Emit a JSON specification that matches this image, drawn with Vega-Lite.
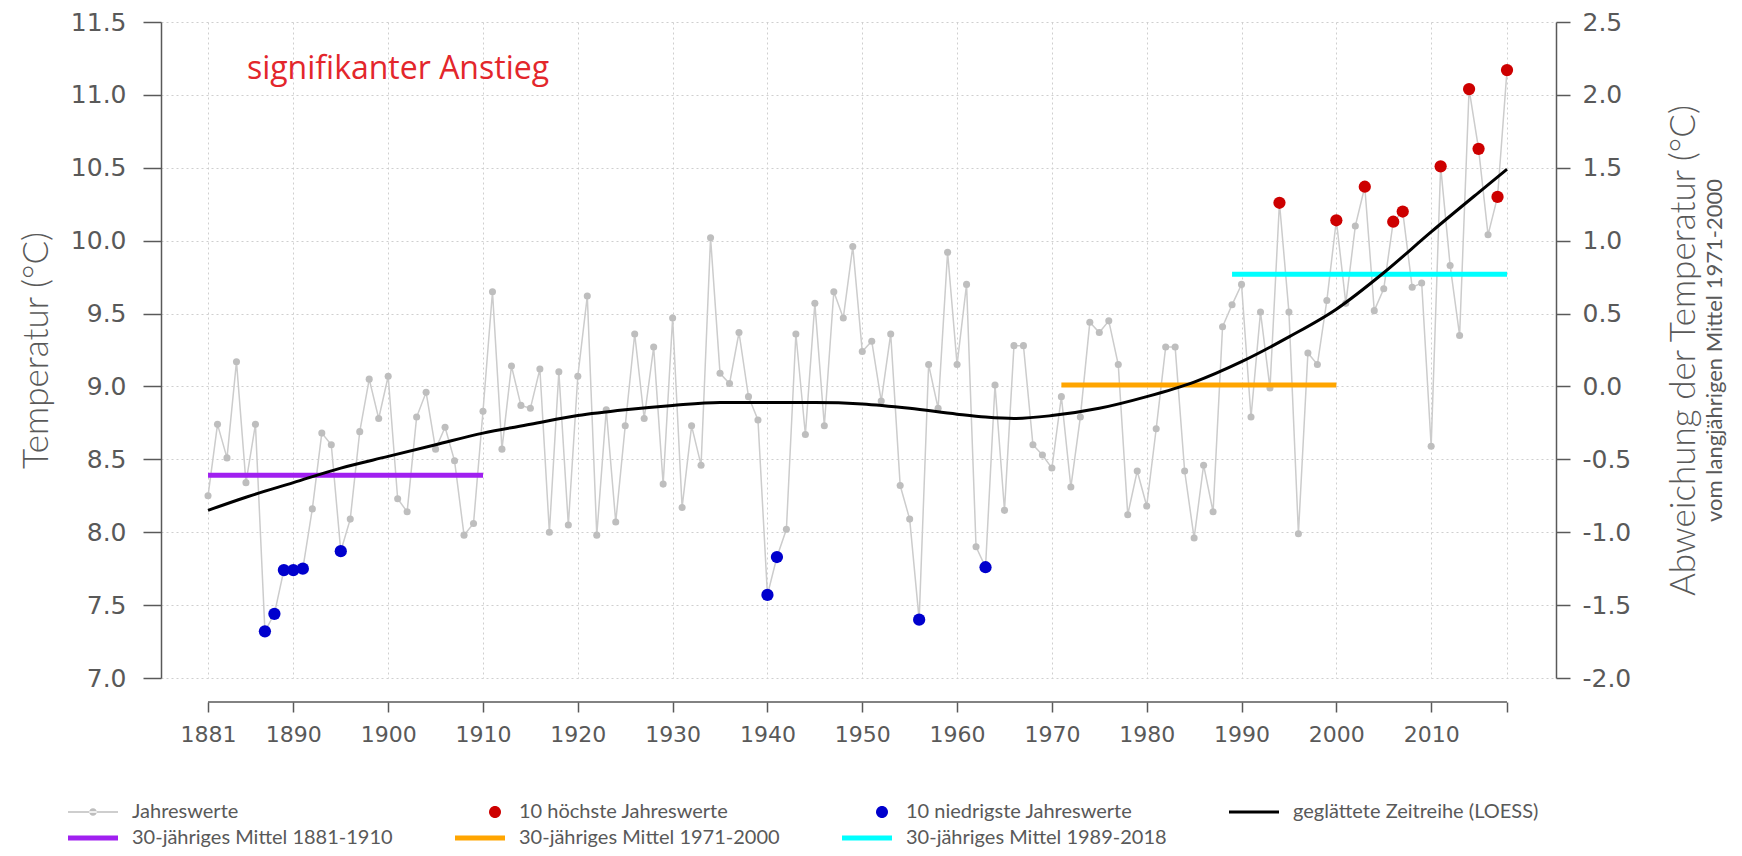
{
  "$schema": "https://vega.github.io/schema/vega-lite/v6.json",
  "width": 1392,
  "height": 656,
  "autosize": {"type": "none"},
  "padding": {"left": 161, "top": 22, "right": 189, "bottom": 178},
  "background": "white",
  "config": {"view": {"stroke": null}},
  "datasets": {
    "annual": [
      {"year":1881,"temp":8.25},{"year":1882,"temp":8.74},{"year":1883,"temp":8.51},{"year":1884,"temp":9.17},{"year":1885,"temp":8.34},
      {"year":1886,"temp":8.74},{"year":1887,"temp":7.32,"extrem":"10 niedrigste Jahreswerte"},{"year":1888,"temp":7.44,"extrem":"10 niedrigste Jahreswerte"},
      {"year":1889,"temp":7.74,"extrem":"10 niedrigste Jahreswerte"},{"year":1890,"temp":7.74,"extrem":"10 niedrigste Jahreswerte"},{"year":1891,"temp":7.75,"extrem":"10 niedrigste Jahreswerte"},
      {"year":1892,"temp":8.16},{"year":1893,"temp":8.68},{"year":1894,"temp":8.60},{"year":1895,"temp":7.87,"extrem":"10 niedrigste Jahreswerte"},
      {"year":1896,"temp":8.09},{"year":1897,"temp":8.69},{"year":1898,"temp":9.05},{"year":1899,"temp":8.78},{"year":1900,"temp":9.07},
      {"year":1901,"temp":8.23},{"year":1902,"temp":8.14},{"year":1903,"temp":8.79},{"year":1904,"temp":8.96},{"year":1905,"temp":8.57},
      {"year":1906,"temp":8.72},{"year":1907,"temp":8.49},{"year":1908,"temp":7.98},{"year":1909,"temp":8.06},{"year":1910,"temp":8.83},
      {"year":1911,"temp":9.65},{"year":1912,"temp":8.57},{"year":1913,"temp":9.14},{"year":1914,"temp":8.87},{"year":1915,"temp":8.85},
      {"year":1916,"temp":9.12},{"year":1917,"temp":8.00},{"year":1918,"temp":9.10},{"year":1919,"temp":8.05},{"year":1920,"temp":9.07},
      {"year":1921,"temp":9.62},{"year":1922,"temp":7.98},{"year":1923,"temp":8.84},{"year":1924,"temp":8.07},{"year":1925,"temp":8.73},
      {"year":1926,"temp":9.36},{"year":1927,"temp":8.78},{"year":1928,"temp":9.27},{"year":1929,"temp":8.33},{"year":1930,"temp":9.47},
      {"year":1931,"temp":8.17},{"year":1932,"temp":8.73},{"year":1933,"temp":8.46},{"year":1934,"temp":10.02},{"year":1935,"temp":9.09},
      {"year":1936,"temp":9.02},{"year":1937,"temp":9.37},{"year":1938,"temp":8.93},{"year":1939,"temp":8.77},
      {"year":1940,"temp":7.57,"extrem":"10 niedrigste Jahreswerte"},{"year":1941,"temp":7.83,"extrem":"10 niedrigste Jahreswerte"},
      {"year":1942,"temp":8.02},{"year":1943,"temp":9.36},{"year":1944,"temp":8.67},{"year":1945,"temp":9.57},
      {"year":1946,"temp":8.73},{"year":1947,"temp":9.65},{"year":1948,"temp":9.47},{"year":1949,"temp":9.96},{"year":1950,"temp":9.24},
      {"year":1951,"temp":9.31},{"year":1952,"temp":8.90},{"year":1953,"temp":9.36},{"year":1954,"temp":8.32},{"year":1955,"temp":8.09},
      {"year":1956,"temp":7.40,"extrem":"10 niedrigste Jahreswerte"},{"year":1957,"temp":9.15},{"year":1958,"temp":8.85},{"year":1959,"temp":9.92},{"year":1960,"temp":9.15},
      {"year":1961,"temp":9.70},{"year":1962,"temp":7.90},{"year":1963,"temp":7.76,"extrem":"10 niedrigste Jahreswerte"},{"year":1964,"temp":9.01},{"year":1965,"temp":8.15},
      {"year":1966,"temp":9.28},{"year":1967,"temp":9.28},{"year":1968,"temp":8.60},{"year":1969,"temp":8.53},{"year":1970,"temp":8.44},
      {"year":1971,"temp":8.93},{"year":1972,"temp":8.31},{"year":1973,"temp":8.79},{"year":1974,"temp":9.44},{"year":1975,"temp":9.37},
      {"year":1976,"temp":9.45},{"year":1977,"temp":9.15},{"year":1978,"temp":8.12},{"year":1979,"temp":8.42},{"year":1980,"temp":8.18},
      {"year":1981,"temp":8.71},{"year":1982,"temp":9.27},{"year":1983,"temp":9.27},{"year":1984,"temp":8.42},{"year":1985,"temp":7.96},
      {"year":1986,"temp":8.46},{"year":1987,"temp":8.14},{"year":1988,"temp":9.41},{"year":1989,"temp":9.56},{"year":1990,"temp":9.70},
      {"year":1991,"temp":8.79},{"year":1992,"temp":9.51},{"year":1993,"temp":8.99},{"year":1994,"temp":10.26,"extrem":"10 höchste Jahreswerte"},{"year":1995,"temp":9.51},
      {"year":1996,"temp":7.99},{"year":1997,"temp":9.23},{"year":1998,"temp":9.15},{"year":1999,"temp":9.59},{"year":2000,"temp":10.14,"extrem":"10 höchste Jahreswerte"},
      {"year":2001,"temp":9.57},{"year":2002,"temp":10.10},{"year":2003,"temp":10.37,"extrem":"10 höchste Jahreswerte"},{"year":2004,"temp":9.52},{"year":2005,"temp":9.67},
      {"year":2006,"temp":10.13,"extrem":"10 höchste Jahreswerte"},{"year":2007,"temp":10.20,"extrem":"10 höchste Jahreswerte"},{"year":2008,"temp":9.68},{"year":2009,"temp":9.71},{"year":2010,"temp":8.59},
      {"year":2011,"temp":10.51,"extrem":"10 höchste Jahreswerte"},{"year":2012,"temp":9.83},{"year":2013,"temp":9.35},{"year":2014,"temp":11.04,"extrem":"10 höchste Jahreswerte"},{"year":2015,"temp":10.63,"extrem":"10 höchste Jahreswerte"},
      {"year":2016,"temp":10.04},{"year":2017,"temp":10.30,"extrem":"10 höchste Jahreswerte"},{"year":2018,"temp":11.17,"extrem":"10 höchste Jahreswerte"}
    ],
    "loess": [
      {"year":1881,"temp":8.15},{"year":1885,"temp":8.24},{"year":1890,"temp":8.34},{"year":1895,"temp":8.44},{"year":1900,"temp":8.52},
      {"year":1905,"temp":8.60},{"year":1910,"temp":8.68},{"year":1915,"temp":8.74},{"year":1920,"temp":8.80},{"year":1925,"temp":8.84},
      {"year":1930,"temp":8.87},{"year":1935,"temp":8.89},{"year":1940,"temp":8.89},{"year":1945,"temp":8.89},{"year":1950,"temp":8.88},
      {"year":1955,"temp":8.85},{"year":1960,"temp":8.81},{"year":1963,"temp":8.79},{"year":1966,"temp":8.78},{"year":1970,"temp":8.80},
      {"year":1975,"temp":8.85},{"year":1980,"temp":8.93},{"year":1985,"temp":9.03},{"year":1990,"temp":9.17},{"year":1995,"temp":9.34},
      {"year":2000,"temp":9.53},{"year":2005,"temp":9.78},{"year":2010,"temp":10.06},{"year":2015,"temp":10.33},{"year":2018,"temp":10.49}
    ],
    "means": [
      {"label":"30-jähriges Mittel 1881-1910","start":1881,"end":1910,"mean":8.39},
      {"label":"30-jähriges Mittel 1971-2000","start":1971,"end":2000,"mean":9.01},
      {"label":"30-jähriges Mittel 1989-2018","start":1989,"end":2018,"mean":9.77}
    ]
  },
  "layer": [
    {
      "data": {"name": "annual"},
      "mark": {"type": "line", "stroke": "#cccccc", "strokeWidth": 1.5},
      "encoding": {
        "x": {
          "field": "year", "type": "quantitative",
          "scale": {"domain": [1876.04, 2022.85], "nice": false, "zero": false},
          "axis": {
            "orient": "bottom", "offset": 24, "title": null,
            "values": [1881,1890,1900,1910,1920,1930,1940,1950,1960,1970,1980,1990,2000,2010,2018],
            "format": "d", "labelExpr": "datum.value == 2018 ? '' : datum.label",
            "grid": true, "gridColor": "#cfcfcf", "gridDash": [2, 3], "gridWidth": 1,
            "domain": false, "ticks": true, "tickSize": 10, "tickWidth": 1.5, "tickColor": "#595959",
            "labelFont": "DejaVu Sans", "labelFontSize": 22, "labelColor": "#595959", "labelPadding": 12,
            "labelFlush": false, "labelOverlap": false
          }
        },
        "y": {
          "field": "temp", "type": "quantitative",
          "scale": {"domain": [7, 11.5], "nice": false, "zero": false},
          "axis": {
            "orient": "left",
            "values": [7,7.5,8,8.5,9,9.5,10,10.5,11,11.5], "format": ".1f",
            "grid": true, "gridColor": "#cfcfcf", "gridDash": [2, 3], "gridWidth": 1,
            "domain": true, "domainColor": "#595959", "domainWidth": 1.5,
            "ticks": true, "tickSize": 18, "tickWidth": 1.5, "tickColor": "#595959",
            "labelFont": "DejaVu Sans", "labelFontSize": 25, "labelColor": "#595959", "labelPadding": 17,
            "labelFlush": false, "labelOverlap": false,
            "title": "Temperatur (°C)", "titleFont": "Lato", "titleFontSize": 35,
            "titleFontWeight": 300, "titleColor": "#595959", "titlePadding": 16
          }
        }
      }
    },
    {
      "data": {"name": "annual"},
      "mark": {"type": "point", "filled": true, "size": 50, "color": "#bebebe", "opacity": 1},
      "encoding": {
        "x": {"field": "year", "type": "quantitative", "scale": {"domain": [1876.04, 2022.85], "nice": false, "zero": false}, "axis": null},
        "y": {
          "field": "temp", "type": "quantitative",
          "scale": {"domain": [7, 11.5], "nice": false, "zero": false},
          "axis": {
            "orient": "right", "offset": 3,
            "values": [7,7.5,8,8.5,9,9.5,10,10.5,11,11.5],
            "labelExpr": "replace(format(datum.value - 9, '.1f'), '\u2212', '-')",
            "grid": false, "domain": true, "domainColor": "#595959", "domainWidth": 1.5,
            "ticks": true, "tickSize": 14, "tickWidth": 1.5, "tickColor": "#595959",
            "labelFont": "DejaVu Sans", "labelFontSize": 25, "labelColor": "#595959", "labelPadding": 12,
            "labelFlush": false, "labelOverlap": false,
            "title": "Abweichung der Temperatur (°C)", "titleFont": "Lato", "titleFontSize": 35,
            "titleFontWeight": 300, "titleColor": "#595959", "titleAngle": 270,
            "titleBaseline": "top", "titlePadding": 36
          }
        }
      }
    },
    {
      "data": {"name": "means"},
      "mark": {"type": "rule", "strokeWidth": 5},
      "encoding": {
        "x": {"field": "start", "type": "quantitative", "scale": {"domain": [1876.04, 2022.85], "nice": false, "zero": false}, "axis": null},
        "x2": {"field": "end"},
        "y": {
          "field": "mean", "type": "quantitative",
          "scale": {"domain": [7, 11.5], "nice": false, "zero": false},
          "axis": {
            "orient": "right", "offset": 0, "grid": false, "domain": false, "ticks": false, "labels": false,
            "title": "vom langjährigen Mittel 1971-2000", "titleFont": "Lato", "titleFontSize": 22,
            "titleFontWeight": "normal", "titleColor": "#595959", "titleAngle": 270, "titlePadding": 173
          }
        },
        "color": {
          "field": "label", "type": "nominal",
          "scale": {
            "domain": ["Jahreswerte","10 höchste Jahreswerte","10 niedrigste Jahreswerte","geglättete Zeitreihe (LOESS)","30-jähriges Mittel 1881-1910","30-jähriges Mittel 1971-2000","30-jähriges Mittel 1989-2018"],
            "range": ["#bebebe","#cd0000","#0000cd","#000000","#a020f0","#ffa500","#00ffff"]
          },
          "legend": {
            "title": null, "orient": "none", "legendX": -93, "legendY": 780,
            "direction": "horizontal", "columns": 4, "gridAlign": "all",
            "columnPadding": 62, "rowPadding": 6, "padding": 0,
            "symbolOffset": 15, "labelOffset": 29, "symbolSize": 100, "symbolStrokeWidth": 0,
            "labelFont": "Lato", "labelFontSize": 20, "labelColor": "#595959", "labelLimit": 0,
            "encode": {
              "symbols": {
                "update": {
                  "shape": {"signal": "datum.value == 'Jahreswerte' ? 'M-5,-0.15H5V0.15H-5Z M-0.75,0A0.75,0.75 0 1,0 0.75,0A0.75,0.75 0 1,0 -0.75,0Z' : (datum.value == '10 höchste Jahreswerte' || datum.value == '10 niedrigste Jahreswerte') ? 'M1.8,0A1.2,1.2 0 1,0 4.2,0A1.2,1.2 0 1,0 1.8,0Z' : datum.value == 'geglättete Zeitreihe (LOESS)' ? 'M-5,-0.3H5V0.3H-5Z' : 'M-5,-0.5H5V0.5H-5Z'"},
                  "fill": {"scale": "color", "field": "value"},
                  "strokeWidth": {"value": 0},
                  "size": {"value": 100},
                  "opacity": {"value": 1}
                }
              }
            }
          }
        }
      }
    },
    {
      "data": {"name": "loess"},
      "mark": {"type": "line", "strokeWidth": 3, "interpolate": "monotone"},
      "encoding": {
        "x": {"field": "year", "type": "quantitative", "scale": {"domain": [1876.04, 2022.85], "nice": false, "zero": false}, "axis": null},
        "y": {"field": "temp", "type": "quantitative", "scale": {"domain": [7, 11.5], "nice": false, "zero": false}, "axis": null},
        "color": {
          "datum": "geglättete Zeitreihe (LOESS)", "type": "nominal",
          "scale": {
            "domain": ["Jahreswerte","10 höchste Jahreswerte","10 niedrigste Jahreswerte","geglättete Zeitreihe (LOESS)","30-jähriges Mittel 1881-1910","30-jähriges Mittel 1971-2000","30-jähriges Mittel 1989-2018"],
            "range": ["#bebebe","#cd0000","#0000cd","#000000","#a020f0","#ffa500","#00ffff"]
          },
          "legend": null
        }
      }
    },
    {
      "data": {"name": "annual"},
      "transform": [{"filter": "isValid(datum.extrem)"}],
      "mark": {"type": "point", "filled": true, "size": 150, "opacity": 1},
      "encoding": {
        "x": {"field": "year", "type": "quantitative", "scale": {"domain": [1876.04, 2022.85], "nice": false, "zero": false}, "axis": null},
        "y": {"field": "temp", "type": "quantitative", "scale": {"domain": [7, 11.5], "nice": false, "zero": false}, "axis": null},
        "color": {
          "field": "extrem", "type": "nominal",
          "scale": {
            "domain": ["Jahreswerte","10 höchste Jahreswerte","10 niedrigste Jahreswerte","geglättete Zeitreihe (LOESS)","30-jähriges Mittel 1881-1910","30-jähriges Mittel 1971-2000","30-jähriges Mittel 1989-2018"],
            "range": ["#bebebe","#cd0000","#0000cd","#000000","#a020f0","#ffa500","#00ffff"]
          },
          "legend": null
        }
      }
    },
    {
      "data": {"values": [{"note": "signifikanter Anstieg"}]},
      "mark": {"type": "text", "align": "left", "baseline": "middle", "font": "Open Sans", "fontSize": 32, "color": "#e3262b"},
      "encoding": {
        "x": {"datum": 1885.1, "type": "quantitative", "scale": {"domain": [1876.04, 2022.85], "nice": false, "zero": false}, "axis": null},
        "y": {"datum": 11.18, "type": "quantitative", "scale": {"domain": [7, 11.5], "nice": false, "zero": false}, "axis": null},
        "text": {"field": "note"}
      }
    },
    {
      "data": {"values": [{}]},
      "mark": {"type": "rule", "color": "#595959", "strokeWidth": 1.5},
      "encoding": {
        "x": {"datum": 1881, "type": "quantitative", "scale": {"domain": [1876.04, 2022.85], "nice": false, "zero": false}, "axis": null},
        "x2": {"datum": 2018},
        "y": {"datum": 6.835, "type": "quantitative", "scale": {"domain": [7, 11.5], "nice": false, "zero": false}, "axis": null}
      }
    }
  ],
  "resolve": {"scale": {"x": "independent", "y": "independent"}}
}
